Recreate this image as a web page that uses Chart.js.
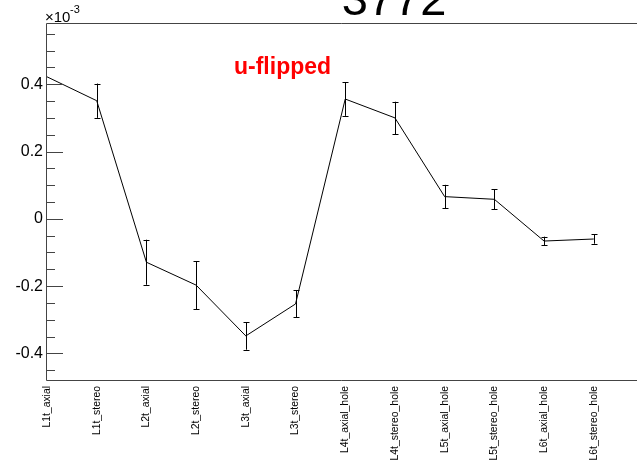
<!DOCTYPE html>
<html>
<head>
<meta charset="utf-8">
<script src="https://cdn.jsdelivr.net/npm/chart.js@4.4.1/dist/chart.umd.min.js"></script>
<style>
  html, body { margin: 0; padding: 0; background: #fff; }
  #wrap { width: 637px; height: 465px; }
</style>
</head>
<body>
<div id="wrap"><canvas id="chart" width="637" height="465"></canvas></div>
<script>
/* --- data (values in units of 1e-3) --- */
const labels = ['L1t_axial', 'L1t_stereo', 'L2t_axial', 'L2t_stereo', 'L3t_axial', 'L3t_stereo',
                'L4t_axial_hole', 'L4t_stereo_hole', 'L5t_axial_hole', 'L5t_stereo_hole',
                'L6t_axial_hole', 'L6t_stereo_hole'];
const values = [0.422, 0.351, -0.129, -0.197, -0.348, -0.253, 0.356, 0.300, 0.066, 0.058, -0.066, -0.060];
const errors = [0, 0.051, 0.067, 0.071, 0.041, 0.040, 0.050, 0.048, 0.035, 0.030, 0.013, 0.014];
const yTicks = [-0.4, -0.2, 0, 0.2, 0.4];
const yMinorStep = 0.05;
const titleText = '3772';
const noteText = 'u-flipped';

const points = labels.map((_, i) => ({ x: i, y: values[i] }));

/* --- ROOT-like frame, inner ticks, error bars and texts --- */
const rootStyle = {
    id: 'rootStyle',
    afterDatasetsDraw(chart) {
        const { ctx, chartArea: a, scales: { x, y } } = chart;
        ctx.save();

        // error bars
        ctx.strokeStyle = '#000';
        ctx.lineWidth = 1;
        values.forEach((v, i) => {
            const e = errors[i];
            if (!e) return;
            const px = Math.round(x.getPixelForValue(i)) + 0.5;
            const top = y.getPixelForValue(v + e);
            const bot = y.getPixelForValue(v - e);
            ctx.beginPath();
            ctx.moveTo(px, top); ctx.lineTo(px, bot);
            ctx.moveTo(px - 3, Math.round(top) + 0.5); ctx.lineTo(px + 3, Math.round(top) + 0.5);
            ctx.moveTo(px - 3, Math.round(bot) + 0.5); ctx.lineTo(px + 3, Math.round(bot) + 0.5);
            ctx.stroke();
        });

        // frame
        ctx.strokeStyle = '#444';
        ctx.beginPath();
        ctx.moveTo(a.right, a.top - 0.5);
        ctx.lineTo(a.left - 0.5, a.top - 0.5);
        ctx.lineTo(a.left - 0.5, a.bottom + 0.5);
        ctx.lineTo(a.right, a.bottom + 0.5);
        ctx.stroke();

        // inner y ticks
        ctx.beginPath();
        for (let v = -0.45; v <= y.max + 1e-9; v += yMinorStep) {
            const val = Math.round(v * 100) / 100;
            if (val < y.min) continue;
            const major = yTicks.some(t => Math.abs(t - val) < 1e-6);
            const py = Math.round(y.getPixelForValue(val)) + 0.5;
            ctx.moveTo(a.left, py);
            ctx.lineTo(a.left + (major ? 16 : 8), py);
        }
        ctx.stroke();

        // exponent label
        ctx.fillStyle = '#000';
        ctx.textBaseline = 'alphabetic';
        ctx.textAlign = 'left';
        ctx.font = '15px "Liberation Sans", Arial, sans-serif';
        ctx.fillText('\u00d710', 45, 22);
        ctx.font = '11px "Liberation Sans", Arial, sans-serif';
        ctx.fillText('-3', 70, 13);

        // title (cut at top)
        ctx.textAlign = 'center';
        ctx.font = '47px "Liberation Sans", Arial, sans-serif';
        ctx.fillText(titleText, 394, 15);

        // note
        ctx.textAlign = 'left';
        ctx.fillStyle = '#ff0000';
        ctx.font = 'bold 23px "Liberation Sans", Arial, sans-serif';
        ctx.fillText(noteText, 234, 74);

        ctx.restore();
    }
};

new Chart(document.getElementById('chart'), {
    type: 'scatter',
    data: {
        datasets: [{
            data: points,
            showLine: true,
            borderColor: '#000',
            borderWidth: 1,
            pointRadius: 0,
            tension: 0
        }]
    },
    options: {
        responsive: false,
        devicePixelRatio: 1,
        animation: false,
        layout: { padding: { top: 24, right: 0, left: 0, bottom: 0 } },
        plugins: { legend: { display: false }, tooltip: { enabled: false } },
        scales: {
            x: {
                type: 'linear',
                min: 0,
                max: 11.87,
                afterBuildTicks: s => { s.ticks = labels.map((_, i) => ({ value: i })); },
                afterFit: s => { s.height = 85; },
                grid: { display: false, drawTicks: false },
                border: { display: false },
                ticks: {
                    autoSkip: false,
                    minRotation: 90,
                    maxRotation: 90,
                    padding: 6,
                    color: '#000',
                    font: { family: '"Liberation Sans", Arial', size: 10.4 },
                    callback: v => labels[v] ?? ''
                }
            },
            y: {
                min: -0.479,
                max: 0.579,
                afterBuildTicks: s => { s.ticks = yTicks.map(v => ({ value: v })); },
                afterFit: s => { s.width = 47; },
                grid: { display: false, drawTicks: false },
                border: { display: false },
                ticks: {
                    padding: 4,
                    color: '#000',
                    font: { family: '"Liberation Sans", Arial', size: 16 },
                    callback: v => String(v)
                }
            }
        }
    },
    plugins: [rootStyle]
});
</script>
</body>
</html>
